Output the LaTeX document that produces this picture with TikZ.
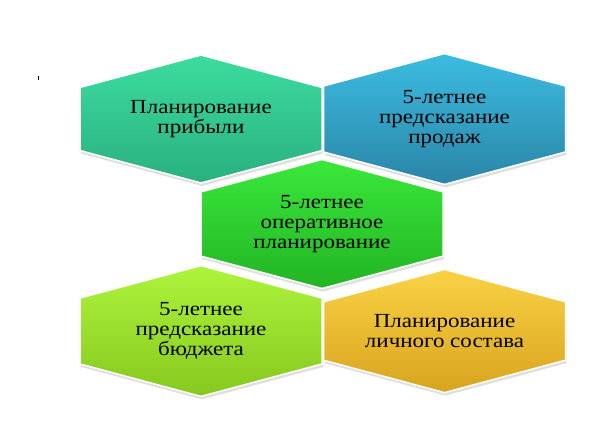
\documentclass[tikz,border=0pt]{standalone}
\usepackage{fontspec}
\setmainfont{Liberation Serif}
\newfontfamily\hexfont[FakeStretch=1.15]{Liberation Serif}
\usetikzlibrary{positioning,shapes.symbols,shadows}
\definecolor{profittop}{HTML}{3CDC9E}
\definecolor{profitbot}{HTML}{2AB07F}
\definecolor{salestop}{HTML}{3CBCE2}
\definecolor{salesbot}{HTML}{2A85A6}
\definecolor{opstop}{HTML}{3AE83A}
\definecolor{opsbot}{HTML}{22B424}
\definecolor{budgettop}{HTML}{AEF43C}
\definecolor{budgetbot}{HTML}{86C81E}
\definecolor{stafftop}{HTML}{FAD244}
\definecolor{staffbot}{HTML}{D8A41E}
\tikzset{
    hexcell/.style={signal, signal to=north and south, signal pointer angle=150,
        minimum width=242pt, minimum height=101pt, inner sep=0pt, align=center,
        font=\hexfont\fontsize{20}{20}\selectfont, draw=white, line width=1.5pt,
        drop shadow={opacity=0.25, shadow xshift=1pt, shadow yshift=-3pt}}
}
\begin{document}
\begin{tikzpicture}[x=1pt, y=-1pt]
\useasboundingbox (0,0) rectangle (605,444);
\node[hexcell, top color=profittop, bottom color=profitbot] (profit) at (201,119) {Планирование\\прибыли};
\node[hexcell, right=0pt of profit, top color=salestop, bottom color=salesbot] (sales) {5-летнее\\предсказание\\продаж};
\node[hexcell, top color=opstop, bottom color=opsbot] (ops) at (322,224) {5-летнее\\оперативное\\планирование};
\node[hexcell, top color=budgettop, bottom color=budgetbot] (budget) at (201,331) {5-летнее\\предсказание\\бюджета};
\node[hexcell, right=0pt of budget, top color=stafftop, bottom color=staffbot] (staff) {Планирование\\личного состава};
\fill (38,76) rectangle (39,80);
\end{tikzpicture}
\end{document}
